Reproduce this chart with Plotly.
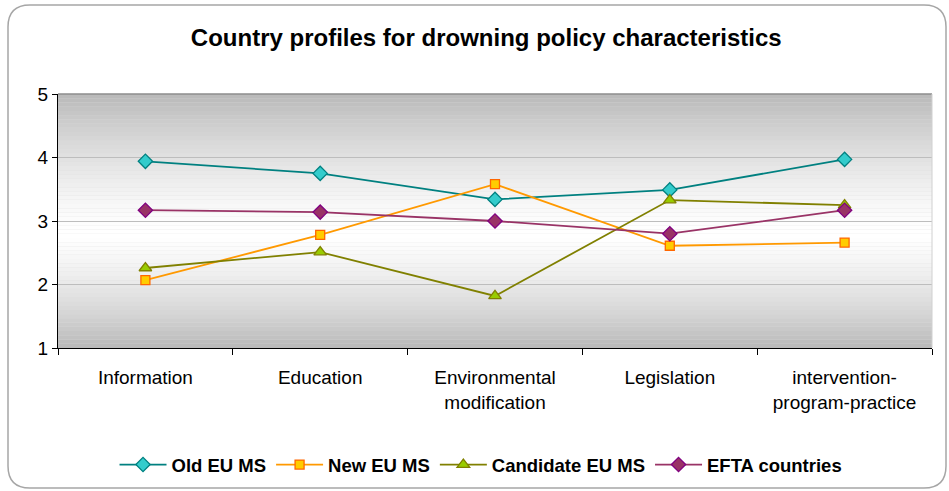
import plotly.graph_objects as go

categories = ["Information", "Education", "Environmental<br>modification", "Legislation",
              "intervention-<br>program-practice"]
old_eu = [3.94, 3.75, 3.34, 3.49, 3.97]
new_eu = [2.07, 2.78, 3.58, 2.61, 2.66]
candidate_eu = [2.26, 2.51, 1.82, 3.33, 3.25]
efta = [3.17, 3.14, 3.00, 2.80, 3.17]
y_ticks = [1, 2, 3, 4, 5]

W, H = 949, 491
L, R, T, B = 58, 17, 94, 143
pw, ph = W - L - R, H - T - B

def px(x):
    return (x - L) / pw

def py(y):
    return (H - B - y) / ph

fig = go.Figure()

series = [
    ("Old EU MS", old_eu, "#008080", "diamond", "#33CCCC", "#008080", 11),
    ("New EU MS", new_eu, "#FF9900", "square", "#FFCC00", "#FF6600", 9),
    ("Candidate EU MS", candidate_eu, "#808000", "triangle-up", "#99CC00", "#808000", 11),
    ("EFTA countries", efta, "#993366", "diamond", "#993366", "#800080", 11),
]
for name, vals, lc, sym, fc, mc, sz in series:
    fig.add_trace(go.Scatter(
        x=categories, y=vals, name=f"<b>{name}</b>", mode="lines+markers",
        line=dict(color=lc, width=1.8),
        marker=dict(symbol=sym, size=sz, color=fc, line=dict(color=mc, width=1.3)),
    ))

shapes = []
# gradient background bands
n = 60
peak = 0.45
for i in range(n):
    y0 = i / n
    y1 = (i + 1) / n
    yc = (y0 + y1) / 2
    d = abs(yc - peak) / (peak if yc < peak else (1 - peak))
    g = int(round(255 - (255 - 185) * d ** 1.4))
    shapes.append(dict(type="rect", xref="paper", yref="paper", x0=0, x1=1, y0=y0, y1=y1,
                       fillcolor=f"rgb({g},{g},{g})", line=dict(width=0), layer="below"))
# top and right plot border
shapes.append(dict(type="line", xref="paper", yref="paper", x0=0, x1=1, y0=1, y1=1,
                   line=dict(color="#8c8c8c", width=1.5), layer="above"))
shapes.append(dict(type="line", xref="paper", yref="paper", x0=1, x1=1, y0=0, y1=1,
                   line=dict(color="#d0d0d0", width=1), layer="above"))
# outer rounded frame
x0, x1, y0, y1 = 8, 946, 5, 488
r = 22
path = (f"M {px(x0 + r)},{py(y0)} L {px(x1 - r)},{py(y0)} "
        f"Q {px(x1)},{py(y0)} {px(x1)},{py(y0 + r)} "
        f"L {px(x1)},{py(y1 - r)} Q {px(x1)},{py(y1)} {px(x1 - r)},{py(y1)} "
        f"L {px(x0 + r)},{py(y1)} Q {px(x0)},{py(y1)} {px(x0)},{py(y1 - r)} "
        f"L {px(x0)},{py(y0 + r)} Q {px(x0)},{py(y0)} {px(x0 + r)},{py(y0)} Z")
shapes.append(dict(type="path", xref="paper", yref="paper", path=path,
                   line=dict(color="#a6a6a6", width=1.5), layer="above"))

fig.update_layout(
    width=W, height=H,
    margin=dict(l=L, r=R, t=T, b=B, autoexpand=False),
    paper_bgcolor="white",
    plot_bgcolor="rgb(220,220,220)",
    font=dict(family="Liberation Sans, Arial, sans-serif", size=16, color="black"),
    title=dict(text="<b>Country profiles for drowning policy characteristics</b>",
               x=0.49, xanchor="center", xref="paper", y=1 - 38 / H, yanchor="middle",
               font=dict(size=24, color="black")),
    shapes=shapes,
    showlegend=True,
    legend=dict(orientation="h", x=0.484, xanchor="center", xref="paper",
                y=py(465), yanchor="middle", font=dict(size=18.5, color="black"),
                itemwidth=47, tracegroupgap=0),
    hovermode=False,
)
fig.update_xaxes(
    type="category", showline=True, linecolor="black", linewidth=1.2,
    ticks="outside", tickson="boundaries", ticklen=6, tickcolor="black",
    showgrid=False, tickfont=dict(size=19), range=[-0.5, 4.5],
    ticklabelstandoff=12, automargin=False,
)
fig.update_yaxes(
    range=[1, 5], tickvals=y_ticks, showline=True, linecolor="black", linewidth=1.2,
    ticks="outside", ticklen=5, tickcolor="black",
    showgrid=True, gridcolor="#bdbdbd", gridwidth=1, zeroline=False,
    tickfont=dict(size=19), automargin=False,
)

fig.write_html("out.html")
